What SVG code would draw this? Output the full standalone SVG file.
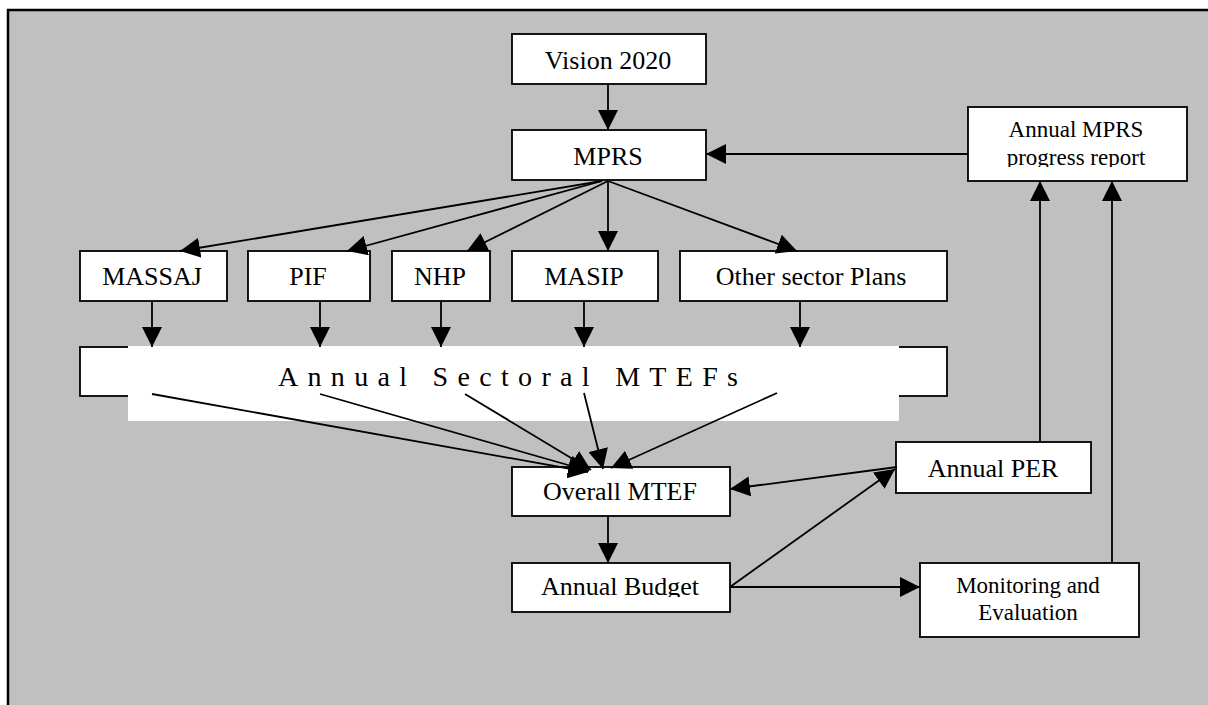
<svg xmlns="http://www.w3.org/2000/svg" width="1208" height="705" viewBox="0 0 1208 705">
<style>
.box{fill:#fff;stroke:#000;stroke-width:1.8}
.t{font-family:"Liberation Serif","Times New Roman",serif;fill:#000;text-anchor:middle}
.l{font-size:26px}
.s{font-size:23px}
.c{fill:none;stroke:#000;stroke-width:1.8}
.a{marker-end:url(#ah)}
</style>
<defs>
<marker id="ah" markerUnits="userSpaceOnUse" markerWidth="20" markerHeight="20" refX="20" refY="10" orient="auto" viewBox="0 0 20 20">
<path d="M0,0 L20,10 L0,20 z" fill="#000"/>
</marker>
<clipPath id="clipMprsRep"><rect x="968" y="107" width="219" height="60"/></clipPath>
<clipPath id="clipBudget"><rect x="512" y="563" width="218" height="34"/></clipPath>
</defs>
<rect id="frame" x="8" y="10" width="1210" height="705" fill="#c0c0c0" stroke="#000" stroke-width="2.5"/>

<g id="vision"><rect class="box" x="512" y="34" width="194" height="50"/><text class="t l" x="608" y="69">Vision 2020</text></g>
<g id="mprs"><rect class="box" x="512" y="130" width="194" height="50"/><text class="t l" x="608" y="165">MPRS</text></g>
<g id="mprsreport"><rect class="box" x="968" y="107" width="219" height="74"/><g clip-path="url(#clipMprsRep)"><text class="t s" x="1076" y="137">Annual MPRS</text><text class="t s" x="1076" y="165">progress report</text></g></g>
<g id="massaj"><rect class="box" x="80" y="251" width="147" height="50"/><text class="t l" x="152" y="285">MASSAJ</text></g>
<g id="pif"><rect class="box" x="248" y="251" width="122" height="50"/><text class="t l" x="308" y="285">PIF</text></g>
<g id="nhp"><rect class="box" x="392" y="251" width="98" height="50"/><text class="t l" x="440" y="285">NHP</text></g>
<g id="masip"><rect class="box" x="512" y="251" width="146" height="50"/><text class="t l" x="584" y="285">MASIP</text></g>
<g id="other"><rect class="box" x="680" y="251" width="267" height="50"/><text class="t l" x="811" y="285">Other sector Plans</text></g>
<g id="sectoral"><rect class="box" x="80" y="347" width="867" height="49"/><rect x="128" y="346" width="771" height="75" fill="#fff"/><text class="t" x="508" y="386" style="font-size:28px" textLength="460" lengthAdjust="spacing">Annual Sectoral MTEFs</text></g>
<g id="overall"><rect class="box" x="512" y="467" width="218" height="49"/><text class="t l" x="620" y="500">Overall MTEF</text></g>
<g id="budget"><rect class="box" x="512" y="563" width="218" height="49"/><text class="t l" x="620" y="595" clip-path="url(#clipBudget)">Annual Budget</text></g>
<g id="per"><rect class="box" x="896" y="442" width="195" height="51"/><text class="t l" x="993" y="477">Annual PER</text></g>
<g id="me"><rect class="box" x="920" y="563" width="219" height="74"/><text class="t s" x="1028" y="593">Monitoring and</text><text class="t s" x="1028" y="620">Evaluation</text></g>

<g id="connectors">
<line class="c a" x1="608" y1="84" x2="608" y2="130"/>
<line class="c a" x1="968" y1="154" x2="706" y2="154"/>
<line class="c a" x1="602" y1="181" x2="180" y2="251"/>
<line class="c a" x1="602" y1="181" x2="347" y2="251"/>
<line class="c a" x1="608" y1="181" x2="467" y2="251"/>
<line class="c a" x1="608" y1="181" x2="608" y2="251"/>
<line class="c a" x1="608" y1="181" x2="797" y2="251"/>
<line class="c a" x1="152" y1="301" x2="152" y2="347"/>
<line class="c a" x1="320" y1="301" x2="320" y2="347"/>
<line class="c a" x1="441" y1="301" x2="441" y2="347"/>
<line class="c a" x1="584" y1="301" x2="584" y2="347"/>
<line class="c a" x1="800" y1="301" x2="800" y2="347"/>
<line class="c a" x1="152" y1="394" x2="588" y2="472"/>
<line class="c a" x1="320" y1="394" x2="589" y2="471"/>
<line class="c a" x1="465" y1="394" x2="591" y2="470"/>
<line class="c a" x1="584" y1="393" x2="603" y2="469"/>
<line class="c a" x1="777" y1="393" x2="611" y2="468"/>
<line class="c a" x1="608" y1="516" x2="608" y2="563"/>
<line class="c a" x1="897" y1="467" x2="730" y2="489"/>
<line class="c a" x1="730" y1="587" x2="895" y2="469"/>
<line class="c a" x1="730" y1="587" x2="920" y2="587"/>
<line class="c a" x1="1040" y1="442" x2="1040" y2="181"/>
<line class="c a" x1="1112" y1="563" x2="1112" y2="181"/>
</g>
</svg>
